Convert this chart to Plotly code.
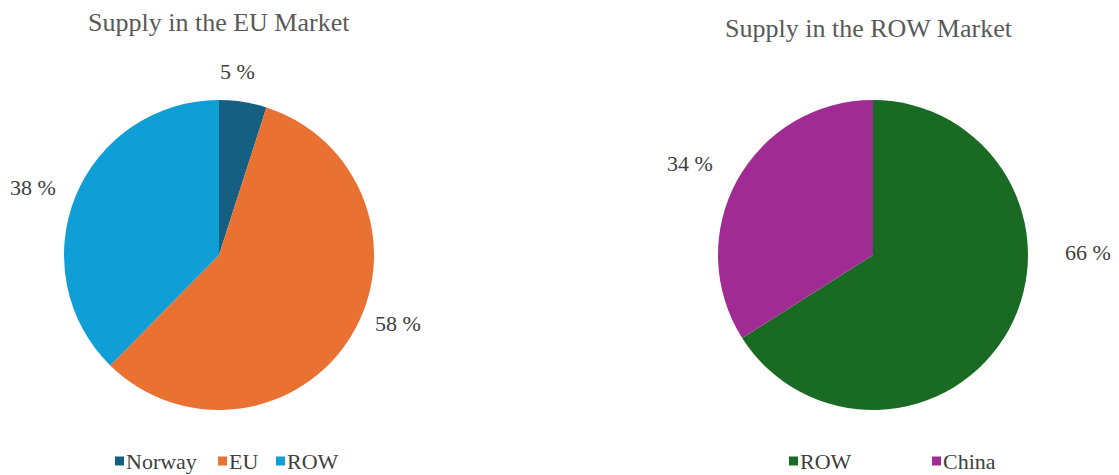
import plotly.graph_objects as go

# Market supply shares (percent)
eu_labels = ["Norway", "EU", "ROW"]
eu_values = [5, 58, 38]
eu_colors = ["#156082", "#E97132", "#0F9ED5"]

row_labels = ["ROW", "China"]
row_values = [66, 34]
row_colors = ["#196B24", "#A02B93"]

W, H = 1119, 475
FONT = "Liberation Serif, Times New Roman, serif"
TEXT = "#404040"

# layout: pie centres/radius, data-label spots and legend swatch positions (px)
eu_center, row_center, radius = (219, 255), (873, 255), 155
eu_label_pos = [(237, 72), (398, 323), (33, 187)]
row_label_pos = [(1088, 252), (690, 163)]
eu_legend_x = [115, 218, 276]
row_legend_x = [789, 932]
legend_y = 461


def dom(c, r):
    cx, cy = c
    return dict(x=[(cx - r) / W, (cx + r) / W],
                y=[(H - cy - r) / H, (H - cy + r) / H])


def px(x, y):
    return x / W, 1 - y / H


fig = go.Figure()
for labels, values, colors, center in [
    (eu_labels, eu_values, eu_colors, eu_center),
    (row_labels, row_values, row_colors, row_center),
]:
    fig.add_trace(go.Pie(
        labels=labels, values=values, sort=False, direction="clockwise",
        rotation=0, marker=dict(colors=colors, line=dict(width=0)),
        textinfo="none", domain=dom(center, radius),
        hoverinfo="label+value", showlegend=False,
    ))

annotations = []
shapes = []

# titles
for text, (x, y) in [("Supply in the EU Market", (219, 23)),
                     ("Supply in the ROW Market", (869, 28))]:
    ax, ay = px(x, y)
    annotations.append(dict(text=text, x=ax, y=ay, xref="paper", yref="paper",
                            xanchor="center", yanchor="middle", showarrow=False,
                            font=dict(family=FONT, size=26, color="#595959")))

# percentage labels
for values, positions in [(eu_values, eu_label_pos), (row_values, row_label_pos)]:
    for v, (x, y) in zip(values, positions):
        ax, ay = px(x, y)
        annotations.append(dict(text=f"{v} %", x=ax, y=ay, xref="paper", yref="paper",
                                xanchor="center", yanchor="middle", showarrow=False,
                                font=dict(family=FONT, size=22, color=TEXT)))

# legends: colour swatch followed by label
for labels, colors, xs in [(eu_labels, eu_colors, eu_legend_x),
                           (row_labels, row_colors, row_legend_x)]:
    for lab, col, x in zip(labels, colors, xs):
        s = 9
        x0, y0 = px(x, legend_y + s / 2)
        x1, y1 = px(x + s, legend_y - s / 2)
        shapes.append(dict(type="rect", xref="paper", yref="paper",
                           x0=x0, x1=x1, y0=y0, y1=y1,
                           fillcolor=col, line=dict(width=0)))
        ax, ay = px(x + s + 1, legend_y)
        annotations.append(dict(text=lab, x=ax, y=ay, xref="paper", yref="paper",
                                xanchor="left", yanchor="middle", showarrow=False,
                                borderpad=0,
                                font=dict(family=FONT, size=22, color=TEXT)))

fig.update_layout(
    width=W, height=H,
    margin=dict(l=0, r=0, t=0, b=0),
    paper_bgcolor="white", plot_bgcolor="white",
    showlegend=False,
    annotations=annotations,
    shapes=shapes,
)

fig.write_html("out.html")
